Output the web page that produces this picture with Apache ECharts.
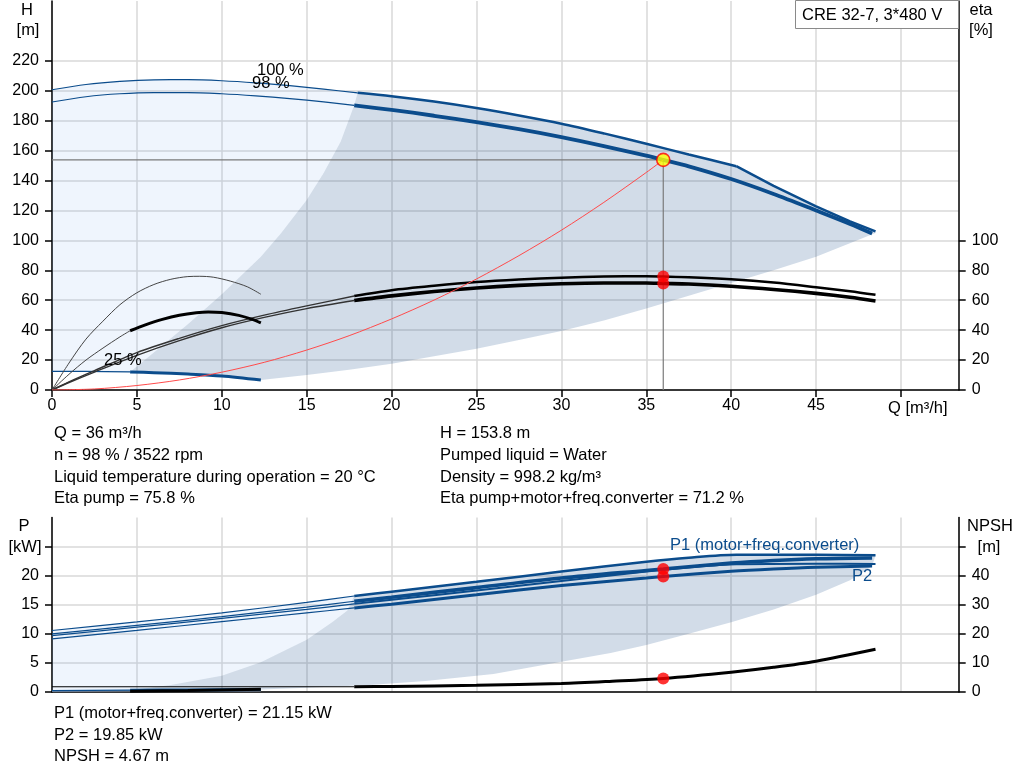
<!DOCTYPE html>
<html><head><meta charset="utf-8">
<script src="https://cdn.jsdelivr.net/npm/echarts@6/dist/echarts.min.js"></script>
<style>html,body{margin:0;padding:0;background:#fff}#c{width:1024px;height:781px}</style>
</head><body><div id="c"></div>
<script>
// ---------- tick labels ----------
const qTicks = [0,5,10,15,20,25,30,35,40,45,50];
const qLabels = [0,5,10,15,20,25,30,35,40,45];
const hTicks = [0,20,40,60,80,100,120,140,160,180,200,220];
const etaTicks = [0,20,40,60,80,100];
const pTicks = [0,5,10,15,20,25];
const pLabels = [0,5,10,15,20];
const npshTicks = [0,10,20,30,40,50];
const npshLabels = [0,10,20,30,40];

// ---------- operating point ----------
const opQ = 36, opH = 153.8, opEtaPump = 75.8, opEtaTot = 71.2, opP1 = 21.15, opP2 = 19.85, opNPSH = 4.67;

// ---------- head curves [Q, H] ----------
const h100Thin = [[0,200.7],[2,204.2],[4,206.3],[6,207.3],[8,207.4],[10,206.7],[12,205.3],[14,203.4],[16,201.1],[18,198.6]];
const h100ThickA = [[18,198.6],[20,196.4],[22.5,192.8],[25,188.5],[27.5,183.5],[30,178],[32.5,171.5],[35,164.6],[37.5,157.4],[40.3,149.6]];
const h100ThickB = [[40.3,149.6],[42.5,136.5],[45,122.8],[47,112.7],[48.5,106]];
const h98Thin = [[0,192.5],[2,196],[4,198],[6,198.8],[8,198.8],[10,198],[12,196.6],[14,194.8],[16,192.6],[17.8,190.3]];
const h98Thick = [[17.8,190.3],[20,187.3],[22.5,183.3],[25,179],[27.5,174.3],[30,169],[32.5,163],[35,156.6],[36,153.8],[37.5,149.5],[40,141],[42.5,131],[45,120],[47,111],[48.3,104.6]];
const h25Thin = [[0,12.5],[2,12.4],[4.6,12.1]];
const h25Thick = [[4.6,12.1],[6,11.6],[8,10.7],[10,9.4],[12.3,6.7]];
const systemCurve = [[0,0],[2.5,0.7],[5,3],[7.5,6.7],[10,11.9],[12.5,18.5],[15,26.7],[17.5,36.3],[20,47.5],[22.5,60.1],[25,74.2],[27.5,89.8],[30,106.8],[32.5,125.4],[35,145.4],[36,153.8]];
const minFlowH = [[4.6,12.1],[6,25],[8,44],[10,64],[12.3,89],[13.5,105],[15,127],[16,145],[17,166],[17.8,190.3]];
const grayBottomH = [[48.5,105],[45,89],[42.5,80],[40,71.5],[37.5,63],[35,54.5],[32.5,46.5],[30,39.5],[27.5,33.5],[25,27.5],[22.5,22.5],[20,17.5],[17.5,13.5],[15,10],[12.3,6.7]];

// ---------- efficiency curves [Q, eta] ----------
const etaPumpThin = [[0,0],[1,5.5],[2.5,13],[5,25],[7.5,34.5],[10,43],[12.5,50],[15,56.2],[17.8,62.8]];
const etaPumpThick = [[17.8,62.8],[20,66.7],[22.5,69.7],[25,72.2],[27.5,73.9],[30,75.1],[32.5,75.8],[35,76],[36,75.8],[37.5,75.4],[40,74],[42.5,71.8],[45,68.7],[47,66],[48.5,63.6]];
const etaTotThin = [[0,0],[1,5],[2.5,12],[5,23.2],[7.5,33],[10,41.6],[12.5,48.5],[15,54.4],[17.8,59.8]];
const etaTotThick = [[17.8,59.8],[20,62.9],[22.5,65.8],[25,68.2],[27.5,69.9],[30,71],[32.5,71.5],[35,71.5],[36,71.2],[37.5,70.8],[40,69.3],[42.5,67.2],[45,64.6],[47,62],[48.5,59.5]];
const etaPump25 = [[0,0],[1,18],[2,34],[3,46],[4,57],[5,65],[6,70.5],[7,74],[8,75.8],[8.7,76],[9.5,75.4],[10.5,72.8],[11.5,69],[12.3,64]];
const etaTot25Thin = [[0,0],[1,10.5],[2,20],[3,28],[4,35.5],[4.6,39.6]];
const etaTot25Thick = [[4.6,39.6],[5.5,43.5],[6.5,47.2],[7.5,50],[8.5,51.7],[9.2,52.2],[10,51.8],[11,49.9],[11.8,47.2],[12.3,44.8]];

// ---------- power curves [Q, P] ----------
const p1_100Thin = [[0,10.57],[5,12.05],[10,13.6],[15,15.4],[17.8,16.5]];
const p1_100Thick = [[17.8,16.5],[20,17.25],[25,18.95],[30,20.7],[35,22.4],[37.5,23.1],[40.3,23.6],[45,23.6],[48.5,23.5]];
const p1_98Thin = [[0,10.0],[5,11.45],[10,12.95],[15,14.6],[17.8,15.6]];
const p1_98Thick = [[17.8,15.6],[20,16.3],[25,17.95],[30,19.6],[35,20.9],[36,21.15],[40,22.15],[42.5,22.6],[45,22.9],[48.3,23.05]];
const p2_100Thin = [[0,9.7],[5,11.15],[10,12.65],[15,14.2],[17.8,15.15]];
const p2_100Thick = [[17.8,15.15],[20,15.85],[25,17.45],[30,19.1],[35,20.7],[37.5,21.4],[40.3,21.95],[45,22.05],[48.5,22.0]];
const p2_98Thin = [[0,9.14],[5,10.6],[10,12.1],[15,13.6],[17.8,14.45]];
const p2_98Thick = [[17.8,14.45],[20,15.1],[25,16.7],[30,18.3],[35,19.6],[36,19.85],[40,20.75],[42.5,21.15],[45,21.45],[48.3,21.65]];
const p1_25Thin = [[0,0.22],[4.6,0.32]];
const p1_25Thick = [[4.6,0.32],[8,0.36],[12.3,0.42]];
const p2_25Thin = [[0,0.12],[4.6,0.2]];
const p2_25Thick = [[4.6,0.2],[8,0.25],[12.3,0.3]];
const minFlowP = [[4.6,0.32],[7,1.2],[10,2.8],[12.3,5.1],[15,9],[16.5,12],[17.4,14],[17.8,16.5]];
const grayBottomP = [[48.3,21.6],[47,19.2],[45,16.7],[42.5,14.2],[40,12.0],[37.5,10.0],[35,8.1],[32.9,6.7],[30,5.2],[26,3.1],[22,1.9],[18.7,1.2],[15,0.75],[12.3,0.42]];

// ---------- NPSH curves [Q, NPSH] ----------
const npshThin = [[0,1.8],[17.8,1.8]];
const npshThick = [[17.8,1.8],[20,1.9],[25,2.3],[30,2.9],[33,3.7],[36,4.67],[40,6.8],[42.5,8.5],[45,10.6],[48.5,14.7]];
const npsh25 = [[4.6,0.3],[8,0.5],[12.3,0.95]];

// ---------- helpers ----------
const BLUE = '#0b4c8c';
const FONT = '"Liberation Sans", Arial, sans-serif';
const rev = a => a.slice().reverse();
function ln(data, color, width, xi, yi, z, smooth) {
  return {type:'line', data, xAxisIndex:xi, yAxisIndex:yi, showSymbol:false, symbol:'none',
    smooth: smooth === undefined ? 0.3 : smooth, lineStyle:{color, width}, z: z || 3, silent:true};
}
function poly(pts, fill, xi, yi) {
  return {type:'custom', coordinateSystem:'cartesian2d', xAxisIndex:xi, yAxisIndex:yi, data:[pts[0]], z:1, silent:true,
    renderItem: (p, api) => ({type:'polygon', shape:{points: pts.map(q => api.coord(q))}, style:{fill}})};
}
function dots(data, xi, yi) {
  return {type:'scatter', data, xAxisIndex:xi, yAxisIndex:yi, symbolSize:12, itemStyle:{color:'#ff0000'}, z:6, silent:true};
}
const GRID_LINE = {show:true, lineStyle:{color:'#d9d9d9', width:1.5}};
const AX_LINE = {show:true, onZero:false, lineStyle:{color:'#000', width:1.5}};
const LBL = {color:'#000', fontSize:16, fontFamily:FONT};

const fillLight = 'rgba(100,160,240,0.1)';
const fillGray = 'rgba(30,80,140,0.2)';

const h100Thick = h100ThickA.concat(h100ThickB.slice(1));
const topLight = h100Thin.concat(rev(minFlowH), rev(h25Thin));
const topGray = minFlowH.concat(h100Thick, grayBottomH, rev(h25Thick));
const botLight = p1_100Thin.concat(rev(minFlowP), rev(p1_25Thin));
const botGray = minFlowP.concat(p1_100Thick, grayBottomP, rev(p1_25Thick));

const T = (text, x, y, align, fill) => ({type:'text', x, y, z:100, silent:true,
  style:{text, fill: fill || '#000', font:'16.5px ' + FONT, align: align || 'left', verticalAlign:'middle'}});

const option = {
  animation:false,
  backgroundColor:'#fff',
  grid:[
    {left:52, right:65.3, top:1, height:389},
    {left:52, right:65.3, top:517.5, height:174.5}
  ],
  xAxis:[
    {gridIndex:0, type:'value', min:0, max:53.4, interval:5, axisLine:AX_LINE,
      axisTick:{show:true, length:7, customValues:qTicks, lineStyle:{color:'#000', width:1.5}},
      axisLabel:Object.assign({customValues:qLabels, margin:8}, LBL), splitLine:GRID_LINE},
    {gridIndex:1, type:'value', min:0, max:53.4, interval:5, axisLine:AX_LINE,
      axisTick:{show:false}, axisLabel:{show:false}, splitLine:GRID_LINE}
  ],
  yAxis:[
    {gridIndex:0, type:'value', position:'left', min:0, max:260, interval:20, axisLine:AX_LINE,
      axisTick:{show:true, length:7, customValues:hTicks, lineStyle:{color:'#000', width:1.5}},
      axisLabel:Object.assign({customValues:hTicks, margin:13}, LBL), splitLine:GRID_LINE},
    {gridIndex:0, type:'value', position:'right', min:0, max:260, interval:20, axisLine:AX_LINE,
      axisTick:{show:true, length:7, customValues:etaTicks, lineStyle:{color:'#000', width:1.5}},
      axisLabel:Object.assign({customValues:etaTicks, margin:13}, LBL), splitLine:{show:false}},
    {gridIndex:1, type:'value', position:'left', min:0, max:30, interval:5, axisLine:AX_LINE,
      axisTick:{show:true, length:7, customValues:pTicks, lineStyle:{color:'#000', width:1.5}},
      axisLabel:Object.assign({customValues:pLabels, margin:13}, LBL), splitLine:GRID_LINE},
    {gridIndex:1, type:'value', position:'right', min:0, max:60, interval:10, axisLine:AX_LINE,
      axisTick:{show:true, length:7, customValues:npshTicks, lineStyle:{color:'#000', width:1.5}},
      axisLabel:Object.assign({customValues:npshLabels, margin:13}, LBL), splitLine:{show:false}}
  ],
  series:[
    // top chart areas
    poly(topLight, fillLight, 0, 0),
    poly(topGray, fillGray, 0, 0),
    // head curves
    ln(h100Thin, BLUE, 1.2, 0, 0),
    ln(h100ThickA, BLUE, 2.5, 0, 0),
    ln(h100ThickB, BLUE, 2.5, 0, 0, 3, false),
    ln(h98Thin, BLUE, 1.2, 0, 0),
    ln(h98Thick, BLUE, 3.8, 0, 0),
    ln(h25Thin, BLUE, 1.2, 0, 0),
    ln(h25Thick, BLUE, 3, 0, 0),
    // efficiency curves
    ln(etaPumpThin, '#333', 1.4, 0, 1),
    ln(etaPumpThick, '#000', 2.5, 0, 1),
    ln(etaTotThin, '#333', 1.4, 0, 1),
    ln(etaTotThick, '#000', 3.6, 0, 1),
    ln(etaPump25, '#444', 1, 0, 1),
    ln(etaTot25Thin, '#444', 1, 0, 1),
    ln(etaTot25Thick, '#000', 3, 0, 1),
    // system curve and operating point
    ln(systemCurve, '#ff4a4a', 1, 0, 0, 4),
    ln([[0,opH],[opQ,opH]], '#7a7a7a', 1.2, 0, 0, 2, false),
    ln([[opQ,opH],[opQ,0]], '#7a7a7a', 1.2, 0, 0, 2, false),
    {type:'scatter', data:[[opQ,opH]], xAxisIndex:0, yAxisIndex:0, symbolSize:13,
      itemStyle:{color:'#ffff00', borderColor:'#ff0000', borderWidth:1.6}, z:7, silent:true},
    dots([[opQ,opEtaPump],[opQ,opEtaTot]], 0, 1),
    // bottom chart areas
    poly(botLight, fillLight, 1, 2),
    poly(botGray, fillGray, 1, 2),
    // power curves
    ln(p1_100Thin, BLUE, 1.2, 1, 2),
    ln(p1_100Thick, BLUE, 2.5, 1, 2),
    ln(p1_98Thin, BLUE, 1.2, 1, 2),
    ln(p1_98Thick, BLUE, 3.6, 1, 2),
    ln(p2_100Thin, BLUE, 1.2, 1, 2),
    ln(p2_100Thick, BLUE, 2, 1, 2),
    ln(p2_98Thin, BLUE, 1.2, 1, 2),
    ln(p2_98Thick, BLUE, 3, 1, 2),
    ln(p2_25Thin, '#7a8aa0', 1.2, 1, 2),
    ln(p2_25Thick, '#7a8aa0', 2.5, 1, 2),
    ln(p1_25Thin, BLUE, 1.2, 1, 2),
    ln(p1_25Thick, BLUE, 3, 1, 2),
    // NPSH curves
    ln(npshThin, '#000', 1.2, 1, 3),
    ln(npshThick, '#000', 3, 1, 3),
    ln(npsh25, '#000', 3, 1, 3),
    dots([[opQ,opP1],[opQ,opP2]], 1, 2),
    dots([[opQ,opNPSH]], 1, 3)
  ],
  graphic:[
    T('H', 27, 10, 'center'),
    T('[m]', 28, 30, 'center'),
    T('eta', 981, 10, 'center'),
    T('[%]', 981, 30, 'center'),
    T('Q [m³/h]', 888, 408),
    T('100 %', 257, 70),
    T('98 %', 252, 83),
    T('25 %', 104, 360),
    {type:'rect', z:99, silent:true, shape:{x:795.5, y:0.5, width:163, height:28}, style:{fill:'#fff', stroke:'#8a8a8a', lineWidth:1}},
    T('CRE 32-7, 3*480 V', 802, 15),
    T('Q = 36 m³/h', 54, 433),
    T('n = 98 % / 3522 rpm', 54, 455.5),
    T('Liquid temperature during operation = 20 °C', 54, 477),
    T('Eta pump = 75.8 %', 54, 498.5),
    T('H = 153.8 m', 440, 433),
    T('Pumped liquid = Water', 440, 455.5),
    T('Density = 998.2 kg/m³', 440, 477),
    T('Eta pump+motor+freq.converter = 71.2 %', 440, 498.5),
    T('P', 24, 526.5, 'center'),
    T('[kW]', 25, 547, 'center'),
    T('NPSH', 990, 526.5, 'center'),
    T('[m]', 989, 547, 'center'),
    T('P1 (motor+freq.converter)', 670, 545, 'left', BLUE),
    T('P2', 852, 576, 'left', BLUE),
    T('P1 (motor+freq.converter) = 21.15 kW', 54, 713.5),
    T('P2 = 19.85 kW', 54, 735),
    T('NPSH = 4.67 m', 54, 756.5)
  ]
};

const chart = echarts.init(document.getElementById('c'), null, {renderer:'canvas'});
chart.setOption(option);
</script></body></html>
